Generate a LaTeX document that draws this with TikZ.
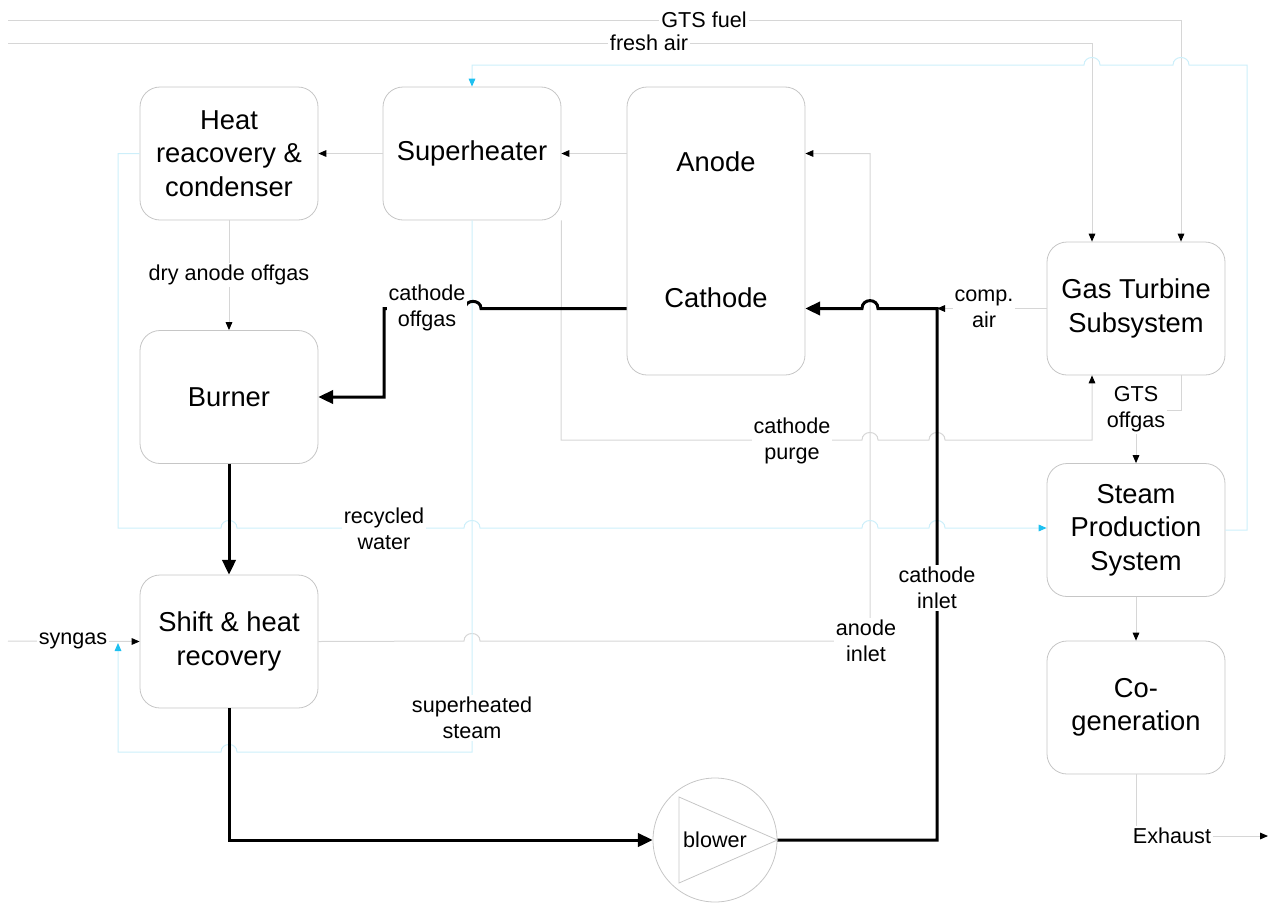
\documentclass[tikz,border=0pt]{standalone}
\usepackage{fontspec}
\setmainfont{Liberation Sans}
\usetikzlibrary{arrows.meta,calc}
\definecolor{lgray}{HTML}{D6D6D6}
\definecolor{bgray}{HTML}{C6C6C6}
\definecolor{lcyan}{HTML}{CDEFFA}
\definecolor{acyan}{HTML}{1EC0F0}
\begin{document}
\begin{tikzpicture}[x=0.75pt,y=-0.75pt,
  box/.style={draw=bgray, fill=white, line width=0.6pt, rounded corners=15pt,
    minimum width=133.5pt, minimum height=99.75pt, align=center,
    font=\fontsize{20.5}{25}\selectfont, inner sep=0pt},
  boxtext/.style={font=\fontsize{20.5}{25}\selectfont, inner sep=0pt},
  lbl/.style={fill=white, align=center, font=\fontsize{16.2}{19.5}\selectfont, inner sep=1.5pt},
  gline/.style={draw=lgray, line width=0.75pt, -{Triangle[length=6pt,width=5pt,color=black]}},
  cline/.style={draw=lcyan, line width=0.75pt, -{Triangle[length=6pt,width=5pt,color=acyan]}},
  tline/.style={draw=black, line width=2.25pt, -{Triangle[length=11pt,width=10pt]}}
]
\useasboundingbox (0,0) rectangle (1273,903);

% boxes
\node[box] (hr) at (229,153.5) {Heat\\reacovery \&\\condenser};
\node[box] (sh) at (472,153.5) {Superheater};
\node[box, minimum height=216pt] (fc) at (716,231) {};
\node[box] (bu) at (229,397) {Burner};
\node[box] (gt) at (1136,308.5) {Gas Turbine\\Subsystem};
\node[box] (sp) at (1136,530) {Steam\\Production\\System};
\node[box] (cg) at (1136,707.5) {Co-\\generation};
\node[box] (sr) at (229,641.5) {Shift \& heat\\recovery};
\node[circle, draw=bgray, line width=0.6pt, minimum size=93pt, inner sep=0pt] (bl) at (715,840) {};

% free ends
\coordinate (fuelL) at (8,20);
\coordinate (airL) at (8,43);
\coordinate (synL) at (8,641);
\coordinate (exR) at (1268,836);

% ---- thin gray connectors
\draw[gline] (fuelL) -- (1181,20) -- (gt.north -| 1181,0);
\draw[gline] (airL) -- (1092,43) -- (gt.north -| 1092,0);
\draw[gline] (sh.west) -- (hr.east);
\draw[gline] (fc.west |- sh.west) -- (sh.east);
\draw[gline] (hr.south) -- (bu.north);
\draw[gline] (synL) -- (sr.west);
\draw[gline] (sr.east) -- (464,641) .. controls (464,631) and (480,631) .. (480,641)
   -- (870,641) -- (870,153.5) -- (fc.east |- sh.east);
\draw[gline] (sh.south east) -- (561,440) -- (862,440) .. controls (862,430) and (878,430) .. (878,440)
   -- (929,440) .. controls (929,430) and (945,430) .. (945,440) -- (1092,440) -- (gt.south -| 1092,0);
\draw[gline] (gt.west) -- (937,308.5);
\draw[gline] (gt.south -| 1181,0) -- (1181,410) -- (1136,410) -- (sp.north);
\draw[gline] (sp.south) -- (cg.north);
\draw[gline] (cg.south) -- (1136,836) -- (exR);

% ---- cyan connectors
\draw[cline] (sp.east) -- (1247,530) -- (1247,65) -- (1189,65) .. controls (1189,55) and (1173,55) .. (1173,65)
   -- (1100,65) .. controls (1100,55) and (1084,55) .. (1084,65) -- (472,65) -- (sh.north);
\draw[cline] (hr.west) -- (118,153.5) -- (118,528) -- (221,528) .. controls (221,518) and (237,518) .. (237,528)
   -- (464,528) .. controls (464,518) and (480,518) .. (480,528)
   -- (862,528) .. controls (862,518) and (878,518) .. (878,528)
   -- (929,528) .. controls (929,518) and (945,518) .. (945,528) -- (sp.west |- 945,528);
\draw[cline] (sh.south) -- (472,752) -- (237,752) .. controls (237,742) and (221,742) .. (221,752)
   -- (118,752) -- (118,643);

% ---- thick connectors
\draw[tline] (fc.west |- gt.west) -- (481,308.5) .. controls (481,299) and (465,299) .. (465,308.5)
   -- (384,308.5) -- (384,397) -- (bu.east);
\draw[tline] (bu.south) -- (sr.north);
\draw[tline] (sr.south) -- (229,840) -- (bl.west);
\draw[tline] (bl.east) -- (937,840) -- (937,308.5) -- (878,308.5) .. controls (878,298) and (862,298) .. (862,308.5)
   -- (fc.east |- gt.west);

% blower triangle
\draw[draw=bgray, line width=0.6pt] (679,797) -- (bl.east) -- (679,883) -- cycle;
\node[font=\fontsize{16.2}{19.5}\selectfont] (blt) at (715,840) {blower};

% texts in fuel cell box
\node[boxtext] (an) at (716,162) {Anode};
\node[boxtext] (ca) at (716,298) {Cathode};

% ---- labels
\node[lbl] (l1) at (704,20) {GTS fuel};
\node[lbl] (l2) at (649,43) {fresh air};
\node[lbl] (l3) at (229,275) {dry anode offgas};
\node[lbl] (l4) at (427,308) {cathode\\offgas};
\node[lbl] (l5) at (984,309) {comp.\\air};
\node[lbl] (l6) at (1136,409) {GTS\\offgas};
\node[lbl] (l7) at (792,441) {cathode\\purge};
\node[lbl] (l8) at (384,529) {recycled\\water};
\node[lbl] (l9) at (937,588) {cathode\\inlet};
\node[lbl] (l10) at (866,641) {anode\\inlet};
\node[lbl] (l11) at (73,641) {syngas};
\node[lbl] (l12) at (472,718) {superheated\\steam};
\node[lbl] (l13) at (1172,836) {Exhaust};
\end{tikzpicture}
\end{document}
